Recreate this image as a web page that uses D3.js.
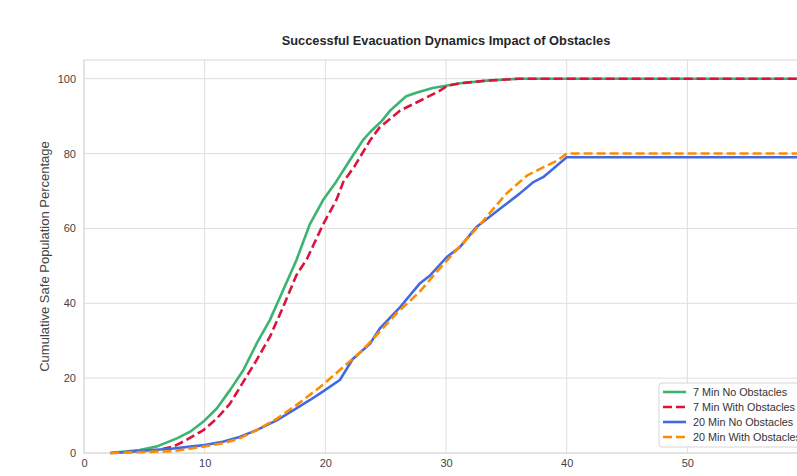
<!DOCTYPE html>
<html>
<head>
<meta charset="utf-8">
<title>Evacuation dynamics</title>
<script src="https://cdn.jsdelivr.net/npm/d3@7"></script>
<style>
  body { margin: 0; background: #fff; }
  text { font-family: "Liberation Sans", Arial, sans-serif; }
</style>
</head>
<body>
<script>
  // time (x) and cumulative safe population % (y)
  var greenX = [2.2, 4.6, 6.0, 7.7, 8.8, 9.9, 11.0, 12.1, 13.2, 14.3, 15.4, 16.5, 17.6, 18.7, 19.8, 20.9, 22.0, 23.1, 23.7, 24.7, 25.4, 26.7, 27.6, 28.9, 30.0, 31.2, 33.4, 36, 60];
  var greenY = [0, 0.8, 1.7, 3.9, 5.7, 8.4, 11.9, 16.8, 22.1, 29.2, 35.5, 43.5, 51.5, 61.0, 67.5, 72.5, 78.1, 83.5, 85.7, 88.8, 91.6, 95.3, 96.3, 97.5, 98.1, 98.8, 99.5, 100, 100];

  var redX = [2.2, 6.0, 7.4, 8.5, 9.9, 11.0, 12.1, 13.2, 14.3, 15.4, 16.5, 17.6, 18.5, 19.8, 20.9, 21.5, 22.4, 23.7, 24.5, 26.2, 28.4, 29.5, 30.1, 31.2, 33.4, 36, 60];
  var redY = [0, 0.7, 1.7, 3.5, 6.1, 9.2, 13.2, 19.0, 24.8, 31.0, 39.0, 47.5, 52.0, 61.0, 67.5, 72.5, 76.5, 83.5, 87.0, 91.5, 95.0, 96.8, 98.1, 98.8, 99.5, 100, 100];

  var blueX = [2.5, 7.4, 8.8, 10.0, 11.5, 12.9, 14.3, 16.0, 17.6, 18.7, 19.6, 21.2, 22.3, 23.7, 24.5, 26.2, 27.8, 28.7, 30.05, 31.15, 32.5, 34.5, 36.1, 37.2, 38.05, 39.2, 40.0, 60];
  var blueY = [0, 1.2, 1.7, 2.1, 3.0, 4.3, 6.1, 8.8, 11.9, 14.1, 16.0, 19.5, 25.2, 29.2, 33.2, 39.0, 45.2, 47.5, 52.3, 55.0, 60.3, 65.3, 69.3, 72.3, 73.7, 76.8, 79, 79];

  var orangeX = [2.2, 7.4, 9.9, 11.5, 12.9, 14.3, 16.0, 17.6, 19.6, 21.5, 23.1, 25.9, 27.8, 29.2, 30.6, 32.25, 33.1, 35.0, 36.7, 38.05, 39.2, 40.0, 60];
  var orangeY = [0, 0.5, 1.7, 2.6, 3.9, 6.1, 9.2, 12.8, 17.7, 23.0, 27.5, 37.3, 43.0, 48.3, 53.3, 59.0, 62.1, 69.3, 74.1, 76.3, 78.1, 80, 80];

  var seriesNames = ["7 Min No Obstacles", "7 Min With Obstacles", "20 Min No Obstacles", "20 Min With Obstacles"];
  var seriesColors = ["#3cb371", "#dc143c", "#4169e1", "#ff8c00"];
  var seriesDashed = [false, true, false, true];
  var xTicks = [0, 10, 20, 30, 40, 50, 60];
  var yTicks = [0, 20, 40, 60, 80, 100];

  var series = [
    { xs: greenX, ys: greenY },
    { xs: redX, ys: redY },
    { xs: blueX, ys: blueY },
    { xs: orangeX, ys: orangeY }
  ];

  var width = 797, height = 476;
  var pLeft = 84, pTop = 60, pRight = 808, pBottom = 453;

  var x = d3.scaleLinear().domain([0, 60]).range([pLeft, pRight]);
  var y = d3.scaleLinear().domain([0, 105]).range([pBottom, pTop]);

  var svg = d3.select("body").append("svg")
    .attr("width", width)
    .attr("height", height);

  // grid
  svg.append("g").selectAll("line").data(xTicks).enter().append("line")
    .attr("x1", function (d) { return x(d); })
    .attr("x2", function (d) { return x(d); })
    .attr("y1", pTop).attr("y2", pBottom)
    .attr("stroke", "#dedede").attr("stroke-width", 1);
  svg.append("g").selectAll("line").data(yTicks).enter().append("line")
    .attr("x1", pLeft).attr("x2", pRight)
    .attr("y1", function (d) { return y(d); })
    .attr("y2", function (d) { return y(d); })
    .attr("stroke", "#dedede").attr("stroke-width", 1);

  // frame
  svg.append("rect")
    .attr("x", pLeft).attr("y", pTop)
    .attr("width", pRight - pLeft).attr("height", pBottom - pTop)
    .attr("fill", "none").attr("stroke", "#d6d6d6").attr("stroke-width", 1);

  // axes, ticks hidden, labels only
  var xAxis = svg.append("g")
    .attr("transform", "translate(0," + pBottom + ")")
    .call(d3.axisBottom(x).tickValues(xTicks.slice(0, 6)).tickSize(0).tickPadding(6));
  var yAxis = svg.append("g")
    .attr("transform", "translate(" + pLeft + ",0)")
    .call(d3.axisLeft(y).tickValues(yTicks).tickSize(0).tickPadding(8));
  [xAxis, yAxis].forEach(function (a) {
    a.select(".domain").remove();
    a.selectAll("text")
      .attr("fill", "#444")
      .style("font-size", "11px")
      .style("font-family", "'Liberation Sans', Arial, sans-serif");
  });

  // lines
  var line = d3.line()
    .x(function (d) { return x(d[0]); })
    .y(function (d) { return y(d[1]); });

  series.forEach(function (s, i) {
    var pts = s.xs.map(function (v, j) { return [v, s.ys[j]]; });
    svg.append("path")
      .datum(pts)
      .attr("d", line)
      .attr("fill", "none")
      .attr("stroke", seriesColors[i])
      .attr("stroke-width", 2.6)
      .attr("stroke-linejoin", "round")
      .attr("stroke-dasharray", seriesDashed[i] ? "9,4" : null);
  });

  // title
  svg.append("text")
    .attr("x", (pLeft + pRight) / 2).attr("y", 45)
    .attr("text-anchor", "middle")
    .attr("font-weight", "bold")
    .attr("font-size", "12.8px")
    .attr("fill", "#262626")
    .text("Successful Evacuation Dynamics Impact of Obstacles");

  // y label
  svg.append("text")
    .attr("transform", "translate(49," + ((pTop + pBottom) / 2) + ") rotate(-90)")
    .attr("text-anchor", "middle")
    .attr("font-size", "13px")
    .attr("fill", "#444")
    .text("Cumulative Safe Population Percentage");

  // legend
  var lg = svg.append("g").attr("transform", "translate(659,383)");
  lg.append("rect")
    .attr("width", 160).attr("height", 64).attr("rx", 3)
    .attr("fill", "#fff").attr("fill-opacity", 0.9)
    .attr("stroke", "#d6d6d6");
  seriesNames.forEach(function (name, i) {
    var ly = 9 + i * 15;
    lg.append("line")
      .attr("x1", 4).attr("x2", 27)
      .attr("y1", ly).attr("y2", ly)
      .attr("stroke", seriesColors[i])
      .attr("stroke-width", 2.6)
      .attr("stroke-dasharray", seriesDashed[i] ? "9,4" : null);
    lg.append("text")
      .attr("x", 34).attr("y", ly + 3.8)
      .attr("font-size", "10.8px")
      .attr("fill", "#333")
      .text(name);
  });
</script>
</body>
</html>
